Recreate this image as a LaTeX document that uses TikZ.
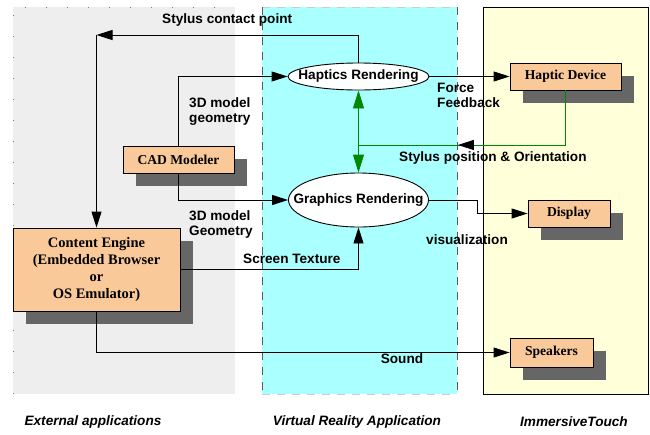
\documentclass[tikz,border=0pt]{standalone}
\usepackage{fontspec}
\setmainfont{Liberation Serif}
\setsansfont{Liberation Sans}
\usetikzlibrary{arrows.meta,shapes.geometric,shadows,decorations.markings}
\definecolor{grayreg}{HTML}{EEEEEE}
\definecolor{cyanreg}{HTML}{AAFFFF}
\definecolor{creamreg}{HTML}{FFFFD9}
\definecolor{peach}{HTML}{FAC99A}
\definecolor{shadowc}{HTML}{666666}
\definecolor{darkgreen}{HTML}{008800}
\tikzset{
  box/.style={draw=black, fill=peach, line width=0.9pt, inner sep=0pt, align=center,
    font=\fontsize{13.6}{16.5}\selectfont\bfseries,
    general shadow={fill=shadowc, shadow xshift=13pt, shadow yshift=-13pt}},
  ell/.style={ellipse, draw=black, fill=white, line width=0.9pt, inner sep=0pt,
    font=\sffamily\fontsize{13.6}{16}\selectfont\bfseries},
  lab/.style={inner sep=0pt, align=left, font=\sffamily\fontsize{13.6}{15}\selectfont\bfseries},
  reglab/.style={inner sep=0pt, font=\sffamily\fontsize{13.6}{15}\selectfont\bfseries\itshape},
  arr/.style={line width=0.9pt, -{Triangle[length=16pt,width=10pt]}},
  garr/.style={line width=0.9pt, draw=darkgreen, {Triangle[length=18pt,width=11pt]}-{Triangle[length=18pt,width=11pt]}},
}
\begin{document}
\begin{tikzpicture}[x=1pt,y=-1pt]
\useasboundingbox (0,0) rectangle (650,434);
\fill[white] (0,0) rectangle (650,434);
% regions
\fill[grayreg] (13,7) rectangle (235,394);
\draw[gray, line width=0.8pt, dash pattern=on 1pt off 20pt] (13,394) -- (13,7) -- (235,7);
\fill[cyanreg] (262,7) rectangle (457,394);
\draw[gray!40, line width=0.9pt, dash pattern=on 8pt off 7pt] (262,7) -- (457,7) (262,394) -- (457,394);
\draw[gray!70!black, line width=0.9pt, dash pattern=on 8pt off 7pt] (262,7) -- (262,394) (457,7) -- (457,394);
\draw[black, line width=0.9pt, fill=creamreg] (483,7) rectangle (648,394);
% nodes
\node[box, minimum width=111pt, minimum height=27pt] (cad) at (178.5,159.5) {CAD Modeler};
\node[box, minimum width=167pt, minimum height=83pt, font=\fontsize{14.5}{17}\selectfont\bfseries] (ce) at (96.5,269.5) {Content Engine\\(Embedded Browser\\or\\OS Emulator)};
\node[box, minimum width=111pt, minimum height=27pt] (hd) at (565.5,76.5) {Haptic Device};
\node[box, minimum width=82pt, minimum height=27pt] (disp) at (569,213.5) {Display};
\node[box, minimum width=83pt, minimum height=29pt] (sp) at (551.5,352.5) {Speakers};
\node[ell, minimum width=141pt, minimum height=27pt] (hr) at (358.5,76.5) {\makebox[0pt]{Haptics Rendering}};
\node[ell, minimum width=140pt, minimum height=54pt] (gr) at (358.5,200) {\makebox[0pt]{Graphics Rendering}};
% coordinates
\coordinate (sc) at (96.5,35);
% connectors
\draw[arr] (hr.north) |- (sc);
\draw[arr] (sc) -- (ce.north);
\draw[arr] (cad.north) |- (hr.west);
\draw[arr] (cad.south) |- (gr.west);
\draw[arr] (ce.east) -| (gr.south);
\draw[arr] (ce.south) |- (sp.west);
\draw[arr] (hr.east) -- (hd.west);
\draw[arr] (gr.east) -- ++(48,0) |- (disp.west);
\draw[darkgreen, line width=0.9pt, postaction={decorate},
  decoration={markings, mark=at position 0.62 with {\arrow[black]{Triangle[length=16pt,width=10pt]}}}]
  (hd.south) |- (hr.south |- 0,145);
\draw[garr] (hr.south) -- (gr.north);
% labels
\node[lab, anchor=west] (l1) at (162,20) {Stylus contact point};
\node[lab, anchor=west] (l2) at (189,112) {3D model\\geometry};
\node[lab, anchor=west] (l3) at (189,224) {3D model\\Geometry};
\node[lab, anchor=west] (l4) at (243,259) {Screen Texture};
\node[lab] (l5) at (402,359) {Sound};
\node[lab, anchor=west] (l6) at (437,95) {Force\\Feedback};
\node[lab, anchor=west] (l7) at (399,157.5) {Stylus position \& Orientation};
\node[lab, anchor=west] (l8) at (426,240) {visualization};
\node[reglab] (r1) at (93,422) {External applications};
\node[reglab] (r2) at (357,422) {Virtual Reality Application};
\node[reglab] (r3) at (574,422) {ImmersiveTouch};
\end{tikzpicture}
\end{document}
